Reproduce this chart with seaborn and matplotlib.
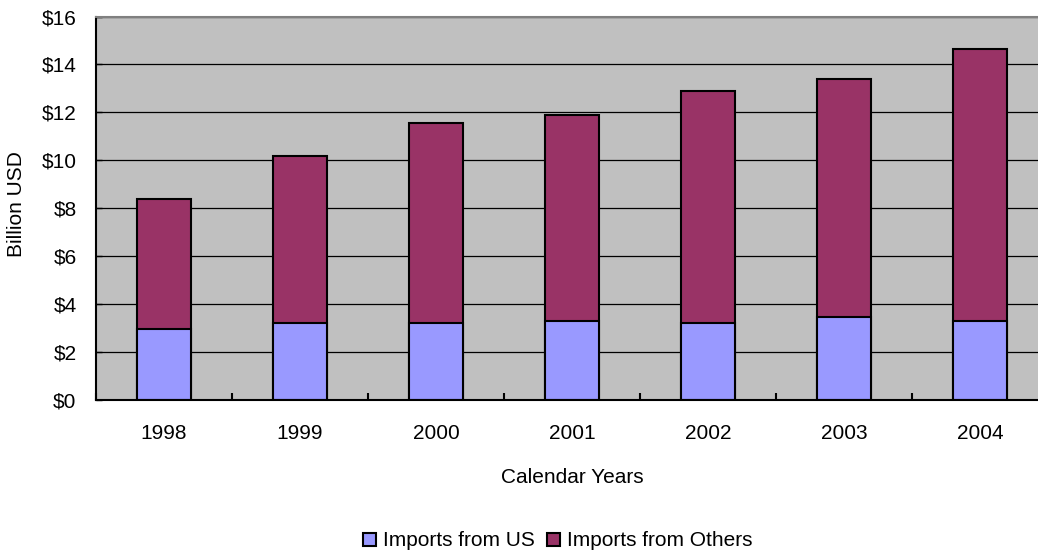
import pandas as pd
import matplotlib.pyplot as plt
import seaborn as sns
from matplotlib.patches import Patch

# Values (billion USD)
years = ['1998', '1999', '2000', '2001', '2002', '2003', '2004']
imports_us = [2.97, 3.21, 3.21, 3.30, 3.22, 3.47, 3.30]
imports_others = [5.41, 6.96, 8.34, 8.60, 9.66, 9.91, 11.33]
y_ticks = [0, 2, 4, 6, 8, 10, 12, 14, 16]

df = pd.DataFrame({'Year': years, 'US': imports_us, 'Others': imports_others})
df['Total'] = df['US'] + df['Others']

sns.set_style('white')
plt.rcParams['font.family'] = ['Liberation Sans', 'DejaVu Sans']
plt.rcParams['font.size'] = 15
plt.rcParams['text.color'] = 'black'
plt.rcParams['axes.labelcolor'] = 'black'
plt.rcParams['xtick.color'] = 'black'
plt.rcParams['ytick.color'] = 'black'

color_us = '#9999FF'
color_others = '#993366'

fig = plt.figure(figsize=(10.38, 5.55), dpi=100)
ax = fig.add_axes([96 / 1038, 155 / 555, 952 / 1038, 383.5 / 555])
ax.set_facecolor('#C0C0C0')

# Stacked bars: full height in "Others" colour, then US part drawn over it
sns.barplot(x='Year', y='Total', data=df, color=color_others, width=0.4, saturation=1,
            edgecolor='black', linewidth=1.5, errorbar=None, ax=ax)
sns.barplot(x='Year', y='US', data=df, color=color_us, width=0.4, saturation=1,
            edgecolor='black', linewidth=1.5, errorbar=None, ax=ax)

ax.set_xlim(-0.5, 6.5)
ax.set_ylim(0, 16)
ax.set_yticks(y_ticks)
ax.set_yticklabels([f'${v}' for v in y_ticks])
ax.yaxis.grid(True, color='black', linewidth=0.9)
ax.set_axisbelow(True)

# category boundary ticks on the x axis
ax.set_xticks([i + 0.5 for i in range(-1, len(years))], minor=True)
ax.tick_params(axis='x', which='major', length=0, pad=17)
ax.tick_params(axis='x', which='minor', direction='in', length=5, width=1.5, bottom=True)
ax.tick_params(axis='y', direction='in', length=4, width=1, pad=14, left=True)

for side in ['left', 'bottom']:
    ax.spines[side].set_color('black')
    ax.spines[side].set_linewidth(1.5)
ax.spines['top'].set_color('#808080')
ax.spines['top'].set_linewidth(1.5)
ax.spines['right'].set_visible(False)

ax.set_xlabel('Calendar Years', labelpad=18)
ax.set_ylabel('Billion USD')
ax.yaxis.set_label_coords(-0.074, 0.51)

handles = [Patch(facecolor=color_us, edgecolor='black', linewidth=1.5, label='Imports from US'),
           Patch(facecolor=color_others, edgecolor='black', linewidth=1.5, label='Imports from Others')]
fig.legend(handles=handles, loc='center', bbox_to_anchor=(558 / 1038, 1 - 541 / 555),
           ncol=2, frameon=False, handlelength=0.6, handleheight=0.6,
           handletextpad=0.35, columnspacing=0.6)

plt.savefig('out.png', dpi=100)
